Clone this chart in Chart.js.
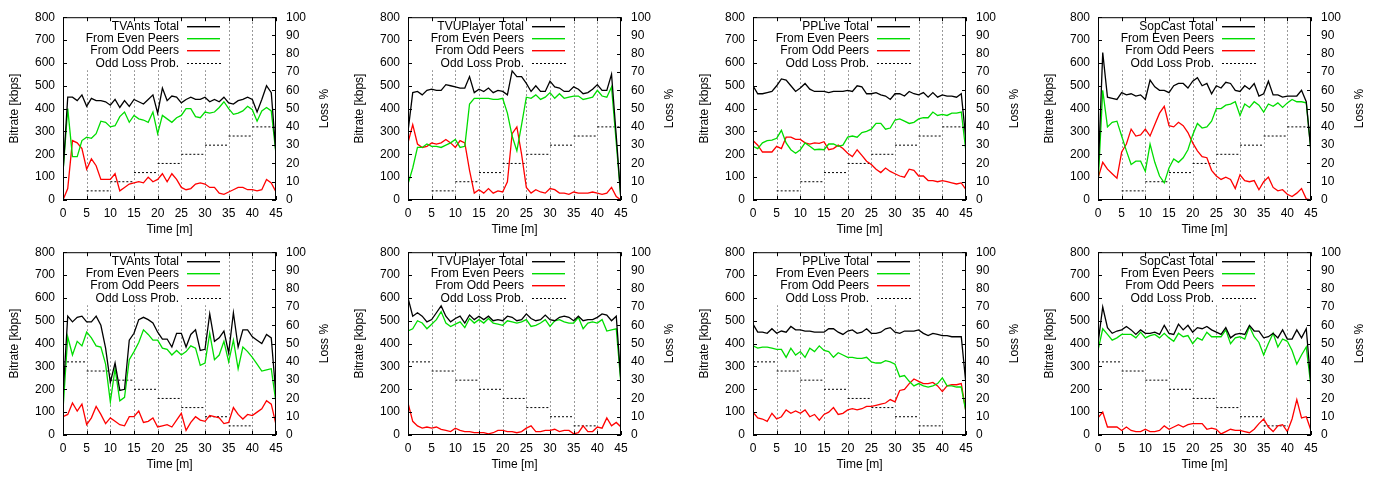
<!DOCTYPE html>
<html>
<head>
<meta charset="utf-8">
<script src="https://cdn.jsdelivr.net/npm/chart.js@4/dist/chart.umd.min.js"></script>
<style>
  body { margin: 0; background: #fff; width: 1382px; height: 477px; overflow: hidden; position: relative; }
  .panel { position: absolute; width: 345px; height: 238px; }
</style>
</head>
<body>
<script>
// time axis (minutes) and tick positions
const minutes = [0,1,2,3,4,5,6,7,8,9,10,11,12,13,14,15,16,17,18,19,20,21,22,23,24,25,26,27,28,29,30,31,32,33,34,35,36,37,38,39,40,41,42,43,44,45];
const timeTicks = [0,5,10,15,20,25,30,35,40,45];
const gridMinutes = [5,10,15,20,25,30,35,40];

// odd loss probability, one value per 5 minute step
const lossEdges = [0,5,10,15,20,25,30,35,40,45];
const lossRising = [0,5,10,15,20,25,30,35,40];
const lossFalling = [40,35,30,25,20,15,10,5,0];

const appNames = ['TVAnts', 'TVUPlayer', 'PPLive', 'SopCast'];

// --- top row (loss rising) ---
const tvantsUpTotal = [120,450,450,435,460,410,445,435,435,430,415,440,405,435,410,440,430,420,440,460,380,490,435,455,450,425,440,450,440,440,450,430,440,430,450,425,420,435,440,450,440,385,440,500,470,200];
const tvantsUpEven  = [120,400,190,190,260,275,270,290,345,340,320,325,365,385,340,370,355,350,340,385,290,370,355,340,360,370,400,400,365,360,385,380,385,405,430,400,375,380,390,410,395,345,390,405,390,200];
const tvantsUpOdd   = [0,50,260,250,225,135,180,150,90,90,90,115,40,55,70,75,80,75,100,80,90,115,80,115,90,55,45,50,70,75,70,55,55,30,25,35,45,55,55,45,45,40,45,90,75,35];

const tvuUpTotal = [300,470,475,460,480,485,480,480,505,500,495,490,490,540,470,485,475,490,470,480,475,460,565,540,540,510,475,500,475,475,520,495,490,475,475,495,485,465,470,485,505,480,480,550,280,0];
const tvuUpEven  = [70,140,230,230,245,235,235,230,240,250,265,230,235,420,445,445,445,445,440,440,445,380,280,215,330,450,445,460,440,450,470,445,465,445,450,455,455,440,445,450,480,455,450,495,250,0];
const tvuUpOdd   = [250,330,245,230,235,250,245,250,265,250,230,260,250,130,30,45,30,50,30,40,35,80,290,320,200,55,30,45,35,30,50,45,30,30,25,35,30,30,30,35,30,25,30,55,15,0];

const ppliveUpTotal = [500,465,465,470,475,500,530,525,500,475,490,510,485,475,475,475,470,475,475,475,480,475,500,495,465,465,470,460,455,440,465,465,455,475,465,460,470,450,470,450,460,455,455,450,465,260];
const ppliveUpEven  = [235,225,250,260,262,270,305,250,220,205,220,250,235,220,222,220,245,245,235,240,275,280,275,295,300,310,335,335,310,315,350,355,345,335,340,355,360,360,385,370,375,370,380,380,385,210];
const ppliveUpOdd   = [260,240,210,210,210,235,225,275,275,265,265,250,245,250,248,255,220,225,240,225,205,190,220,195,170,155,135,120,140,125,115,105,100,135,130,105,105,85,85,80,85,80,75,70,75,45];

const sopcastUpTotal = [100,645,450,445,440,470,460,465,455,460,440,525,495,480,480,470,500,510,510,490,520,535,500,510,465,500,490,515,510,480,475,500,485,510,455,465,520,460,460,450,455,455,455,480,430,210];
const sopcastUpEven  = [60,480,320,340,345,280,215,155,170,170,125,245,165,105,75,140,180,165,185,220,285,335,315,320,345,400,400,415,420,430,370,420,405,430,415,385,420,410,425,405,425,440,430,430,425,210];
const sopcastUpOdd   = [95,165,135,115,95,210,245,310,280,285,310,280,330,380,410,325,320,340,325,295,250,215,190,185,130,105,90,100,90,50,110,85,80,85,45,80,100,55,40,45,25,15,30,50,5,0];

// --- bottom row (loss falling) ---
const tvantsDownTotal = [170,520,495,515,520,495,495,520,480,380,230,315,195,200,415,445,505,515,505,490,450,420,420,385,445,445,385,440,460,370,375,530,410,425,455,360,535,385,460,460,430,415,400,440,425,170];
const tvantsDownEven  = [110,430,350,410,390,450,425,390,385,310,145,290,150,165,330,365,405,460,440,415,415,380,375,350,370,350,365,390,380,305,315,445,330,350,410,320,415,290,385,365,340,310,280,285,290,140];
const tvantsDownOdd   = [80,90,140,105,135,45,75,125,90,50,75,60,45,40,80,80,105,55,60,75,35,40,45,35,65,95,20,55,80,65,60,85,80,75,50,55,120,90,70,90,85,100,115,150,135,45];

const tvuDownTotal = [600,520,535,520,495,505,535,565,520,495,510,520,490,525,505,520,505,520,500,505,500,520,515,500,505,530,510,500,505,525,505,500,515,520,515,500,520,500,505,505,515,530,525,500,520,230];
const tvuDownEven  = [455,465,500,490,465,485,505,540,490,475,485,495,470,510,490,505,490,510,490,485,480,500,495,490,495,505,475,480,490,505,475,500,505,495,490,490,515,465,490,495,490,505,455,460,465,220];
const tvuDownOdd   = [140,60,40,30,35,30,35,25,20,15,30,20,15,15,10,10,10,5,10,20,20,15,15,10,15,30,40,15,15,20,20,25,15,20,20,5,10,40,15,15,35,30,75,40,55,35];

const ppliveDownTotal = [485,450,450,445,465,445,455,450,475,460,460,455,455,450,450,450,465,465,450,440,455,460,445,450,465,445,445,450,465,470,450,445,455,455,455,460,445,435,445,440,435,435,430,430,430,220];
const ppliveDownEven  = [390,380,385,385,380,375,375,340,380,350,365,340,380,365,390,370,365,340,360,350,340,340,335,335,340,320,315,315,325,320,310,255,260,235,215,225,215,210,215,225,250,215,215,210,210,100];
const ppliveDownOdd   = [100,75,70,60,95,70,80,110,95,105,95,110,80,90,65,90,100,120,90,95,110,115,110,115,125,125,130,135,140,155,145,195,200,225,245,235,225,225,230,215,190,215,220,220,225,100];

const sopcastDownTotal = [400,560,470,445,455,460,475,460,440,460,445,445,450,440,480,445,440,485,460,480,450,470,465,475,460,450,440,470,425,440,445,440,480,455,455,425,430,445,425,460,420,420,460,425,465,220];
const sopcastDownEven  = [370,465,440,415,425,440,440,440,425,450,425,435,440,425,445,425,410,445,430,435,400,425,415,450,430,430,430,460,400,425,430,420,475,430,405,350,400,445,385,420,410,370,310,350,385,210];
const sopcastDownOdd   = [75,100,35,35,35,20,35,20,15,15,25,15,15,20,40,25,35,45,35,45,50,50,50,25,30,25,5,15,25,20,20,15,10,25,50,70,35,15,40,45,15,70,155,75,80,20];

const FONT = "'Liberation Sans', Arial, Helvetica, sans-serif";
const GREEN = '#00dd00';
const RED = '#ff0000';

// gnuplot look: dashed grid, white key box, inward ticks, axis titles
const gnuplotPlugin = {
    id: 'gnuplotLook',
    beforeDatasetsDraw(chart) {
        const {ctx, chartArea: a, scales} = chart;
        ctx.save();
        ctx.strokeStyle = '#999999';
        ctx.lineWidth = 1;
        ctx.setLineDash([2, 2]);
        gridMinutes.forEach(m => {
            const px = Math.round(scales.x.getPixelForValue(m)) + 0.5;
            ctx.beginPath();
            ctx.moveTo(px, a.bottom);
            ctx.lineTo(px, a.top);
            ctx.stroke();
        });
        ctx.setLineDash([]);
        // opaque key box
        ctx.fillStyle = '#fff';
        ctx.fillRect(a.left + 16, a.top + 1, 147, 52);
        ctx.restore();
    },
    afterDatasetsDraw(chart) {
        const {ctx, chartArea: a, scales} = chart;
        ctx.save();
        ctx.font = '12px ' + FONT;

        // key: text right aligned, sample to its right
        ctx.textAlign = 'right';
        ctx.textBaseline = 'middle';
        chart.data.datasets.forEach((ds, i) => {
            const ky = Math.round(a.top + 9 + i * 12.1);
            ctx.fillStyle = '#000';
            ctx.fillText(ds.label, a.left + 116, ky + 0.5);
            ctx.fillStyle = ds.borderColor;
            if (ds.borderDash) {
                for (let sx = a.left + 124; sx < a.left + 157; sx += 4) {
                    ctx.fillRect(sx, ky, 2, 1);
                }
            } else {
                ctx.fillRect(a.left + 124, ky, 33, 1.4);
            }
        });

        // frame
        ctx.strokeStyle = '#000';
        ctx.lineWidth = 1;
        ctx.strokeRect(a.left + 0.5, a.top + 0.5, a.right - a.left - 1, a.bottom - a.top - 1);

        // inward ticks
        ctx.beginPath();
        for (let v = 0; v <= 800; v += 100) {
            const py = Math.round(scales.y.getPixelForValue(v)) + 0.5;
            ctx.moveTo(a.left, py); ctx.lineTo(a.left + 4, py);
        }
        for (let v = 0; v <= 100; v += 10) {
            const py = Math.round(scales.y2.getPixelForValue(v)) + 0.5;
            ctx.moveTo(a.right, py); ctx.lineTo(a.right - 4, py);
        }
        timeTicks.forEach(m => {
            const px = Math.round(scales.x.getPixelForValue(m)) + 0.5;
            ctx.moveTo(px, a.bottom); ctx.lineTo(px, a.bottom - 4);
            ctx.moveTo(px, a.top); ctx.lineTo(px, a.top + 4);
        });
        ctx.stroke();

        // axis titles
        const midY = (a.top + a.bottom) / 2;
        ctx.fillStyle = '#000';
        ctx.textAlign = 'center';
        ctx.fillText('Time [m]', (a.left + a.right) / 2, a.bottom + 30);
        ctx.save();
        ctx.translate(15, midY);
        ctx.rotate(-Math.PI / 2);
        ctx.fillText('Bitrate [kbps]', 0, 0);
        ctx.restore();
        ctx.save();
        ctx.translate(a.right + 49, midY);
        ctx.rotate(-Math.PI / 2);
        ctx.fillText('Loss %', 0, 0);
        ctx.restore();
        ctx.restore();
    }
};

function series(values) {
    return minutes.map((m, i) => ({x: m, y: values[i]}));
}

function steps(loss) {
    const pts = [];
    loss.forEach((v, k) => {
        pts.push({x: lossEdges[k], y: v});
        pts.push({x: lossEdges[k + 1], y: v});
        pts.push({x: lossEdges[k + 1], y: null});
    });
    return pts;
}

function makePanel(col, row, name, total, even, odd, loss) {
    const div = document.createElement('div');
    div.className = 'panel';
    div.style.left = (col * 345) + 'px';
    div.style.top = (row * 235) + 'px';
    const canvas = document.createElement('canvas');
    canvas.width = 345;
    canvas.height = 238;
    div.appendChild(canvas);
    document.body.appendChild(div);

    const tickFont = {family: FONT, size: 12};

    new Chart(canvas, {
        type: 'line',
        data: {
            datasets: [
                {label: name + ' Total', data: series(total), borderColor: '#000', borderWidth: 1.3, pointRadius: 0, tension: 0, yAxisID: 'y'},
                {label: 'From Even Peers', data: series(even), borderColor: GREEN, borderWidth: 1.3, pointRadius: 0, tension: 0, yAxisID: 'y'},
                {label: 'From Odd Peers', data: series(odd), borderColor: RED, borderWidth: 1.3, pointRadius: 0, tension: 0, yAxisID: 'y'},
                {label: 'Odd Loss Prob.', data: steps(loss), borderColor: '#000', borderWidth: 1, borderDash: [2, 2], pointRadius: 0, spanGaps: false, yAxisID: 'y2'}
            ]
        },
        options: {
            responsive: false,
            animation: false,
            devicePixelRatio: 1,
            layout: {padding: {top: 15, left: 0, right: 0, bottom: 0}},
            plugins: {legend: {display: false}, tooltip: {enabled: false}},
            scales: {
                x: {
                    type: 'linear', min: 0, max: 45,
                    ticks: {stepSize: 5, font: tickFont, color: '#000', padding: 6, maxRotation: 0, autoSkip: false},
                    grid: {display: false, drawTicks: false},
                    border: {display: false},
                    afterFit(s) { s.height = 38; }
                },
                y: {
                    position: 'left', min: 0, max: 800,
                    ticks: {stepSize: 100, font: tickFont, color: '#000', padding: 8},
                    grid: {display: false, drawTicks: false},
                    border: {display: false},
                    afterFit(s) { s.width = 63; }
                },
                y2: {
                    position: 'right', min: 0, max: 100,
                    ticks: {stepSize: 10, font: tickFont, color: '#000', padding: 10},
                    grid: {display: false, drawTicks: false},
                    border: {display: false},
                    afterFit(s) { s.width = 69; }
                }
            }
        },
        plugins: [gnuplotPlugin]
    });
}

makePanel(0, 0, appNames[0], tvantsUpTotal, tvantsUpEven, tvantsUpOdd, lossRising);
makePanel(1, 0, appNames[1], tvuUpTotal, tvuUpEven, tvuUpOdd, lossRising);
makePanel(2, 0, appNames[2], ppliveUpTotal, ppliveUpEven, ppliveUpOdd, lossRising);
makePanel(3, 0, appNames[3], sopcastUpTotal, sopcastUpEven, sopcastUpOdd, lossRising);
makePanel(0, 1, appNames[0], tvantsDownTotal, tvantsDownEven, tvantsDownOdd, lossFalling);
makePanel(1, 1, appNames[1], tvuDownTotal, tvuDownEven, tvuDownOdd, lossFalling);
makePanel(2, 1, appNames[2], ppliveDownTotal, ppliveDownEven, ppliveDownOdd, lossFalling);
makePanel(3, 1, appNames[3], sopcastDownTotal, sopcastDownEven, sopcastDownOdd, lossFalling);
</script>
</body>
</html>
